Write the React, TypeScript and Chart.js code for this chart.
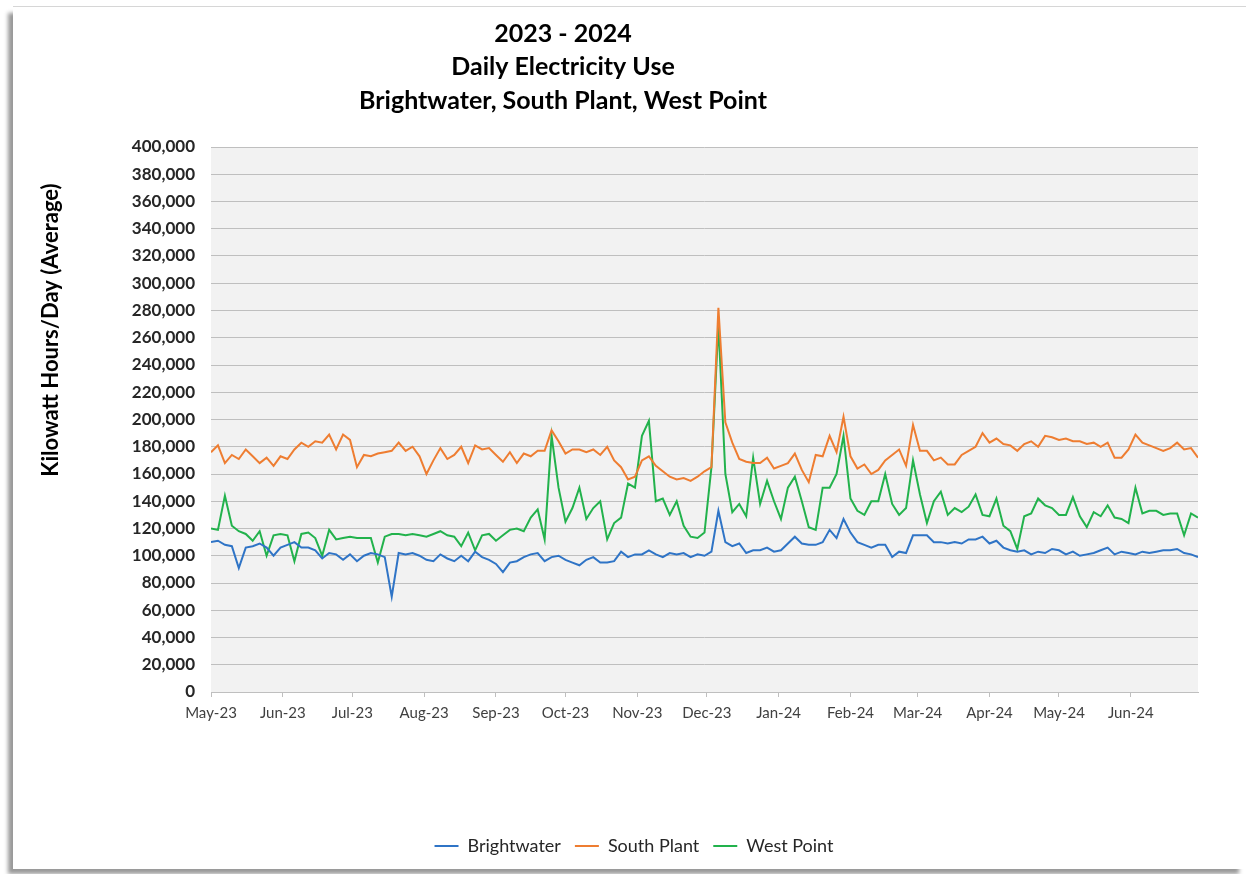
import React, { useEffect, useRef } from "react";
import { Chart, registerables } from "chart.js";

Chart.register(...registerables);

// Sample spacing of the series below (days since 1 May 2023).
const SAMPLE_STEP_DAYS = 3;

// Month tick positions (day index since 1 May 2023) and their labels.
const monthStartDays = [0, 31, 61, 92, 123, 153, 184, 214, 245, 276, 305, 336, 366, 397];
const monthLabels = [
  "May-23", "Jun-23", "Jul-23", "Aug-23", "Sep-23", "Oct-23", "Nov-23",
  "Dec-23", "Jan-24", "Feb-24", "Mar-24", "Apr-24", "May-24", "Jun-24",
];

// Daily electricity use, thousands of kWh/day, one value every 3 days.
const brightwaterK = [
  110, 111, 108, 107, 91, 106, 107, 109, 106, 100,
  106, 108, 110, 106, 106, 104, 98, 102, 101, 97,
  101, 96, 100, 102, 101, 99, 70, 102, 101, 102,
  100, 97, 96, 101, 98, 96, 100, 96, 103, 99,
  97, 94, 88, 95, 96, 99, 101, 102, 96, 99,
  100, 97, 95, 93, 97, 99, 95, 95, 96, 103,
  99, 101, 101, 104, 101, 99, 102, 101, 102, 99,
  101, 100, 103, 133, 110, 107, 109, 102, 104, 104,
  106, 103, 104, 109, 114, 109, 108, 108, 110, 119,
  113, 127, 117, 110, 108, 106, 108, 108, 99, 103,
  102, 115, 115, 115, 110, 110, 109, 110, 109, 112,
  112, 114, 109, 111, 106, 104, 103, 104, 101, 103,
  102, 105, 104, 101, 103, 100, 101, 102, 104, 106,
  101, 103, 102, 101, 103, 102, 103, 104, 104, 105,
  102, 101, 99,
];

const southPlantK = [
  176, 181, 168, 174, 171, 178, 173, 168, 172, 166,
  173, 171, 178, 183, 180, 184, 183, 189, 178, 189,
  185, 165, 174, 173, 175, 176, 177, 183, 177, 180,
  173, 160, 170, 179, 171, 174, 180, 168, 181, 178,
  179, 174, 169, 176, 168, 175, 173, 177, 177, 192,
  184, 175, 178, 178, 176, 178, 174, 180, 170, 165,
  156, 158, 170, 173, 166, 162, 158, 156, 157, 155,
  158, 162, 165, 282, 198, 183, 171, 169, 168, 168,
  172, 164, 166, 168, 175, 163, 154, 174, 173, 188,
  176, 202, 173, 164, 167, 160, 163, 170, 174, 178,
  166, 196, 177, 177, 170, 172, 167, 167, 174, 177,
  180, 190, 183, 186, 182, 181, 177, 182, 184, 180,
  188, 187, 185, 186, 184, 184, 182, 183, 180, 183,
  172, 172, 178, 189, 183, 181, 179, 177, 179, 183,
  178, 179, 172,
];

const westPointK = [
  120, 119, 144, 122, 118, 116, 111, 118, 100, 115,
  116, 115, 96, 116, 117, 113, 100, 119, 112, 113,
  114, 113, 113, 113, 95, 114, 116, 116, 115, 116,
  115, 114, 116, 118, 115, 114, 107, 117, 104, 115,
  116, 111, 115, 119, 120, 118, 128, 134, 112, 188,
  150, 125, 135, 150, 127, 135, 140, 112, 124, 128,
  153, 150, 188, 199, 140, 142, 130, 140, 122, 114,
  113, 117, 165, 270, 160, 132, 138, 129, 172, 138,
  155, 140, 127, 150, 158, 140, 121, 119, 150, 150,
  160, 188, 142, 133, 130, 140, 140, 160, 138, 130,
  135, 170, 145, 124, 140, 147, 130, 135, 132, 136,
  145, 130, 129, 142, 122, 118, 105, 129, 131, 142,
  137, 135, 130, 130, 143, 129, 121, 132, 129, 137,
  128, 127, 124, 150, 131, 133, 133, 130, 131, 131,
  115, 131, 128,
];

const seriesNames = ["Brightwater", "South Plant", "West Point"];
const seriesColors = ["#2f74c6", "#ee7d31", "#22b24c"];

const FONT = "Lato, 'Open Sans', 'DejaVu Sans', sans-serif";

const titleLines = ["2023 - 2024", "Daily Electricity Use", "Brightwater, South Plant, West Point"];
const yAxisTitle = "Kilowatt Hours/Day (Average)";

const toPoints = (vals: number[]) =>
  vals.map((v, i) => ({ x: i * SAMPLE_STEP_DAYS, y: v * 1000 }));

const plotBackground = {
  id: "plotBackground",
  beforeDraw(chart: any) {
    const { ctx, chartArea } = chart;
    ctx.save();
    ctx.fillStyle = "#f2f2f2";
    ctx.fillRect(chartArea.left, chartArea.top, chartArea.right - chartArea.left, chartArea.bottom - chartArea.top);
    ctx.restore();
  },
};

const titles = {
  id: "titles",
  afterDraw(chart: any) {
    const { ctx } = chart;
    ctx.save();
    ctx.fillStyle = "#000000";
    ctx.textAlign = "center";
    ctx.textBaseline = "middle";
    ctx.font = `bold 25px ${FONT}`;
    const ys = [27, 60, 94];
    titleLines.forEach((t, i) => ctx.fillText(t, 550, ys[i]));
    ctx.translate(38, 323);
    ctx.rotate(-Math.PI / 2);
    ctx.font = `bold 22px ${FONT}`;
    ctx.fillText(yAxisTitle, 0, 0);
    ctx.restore();
  },
};

export default function App() {
  const canvasRef = useRef<HTMLCanvasElement | null>(null);

  useEffect(() => {
    if (!canvasRef.current) return;
    const data = [brightwaterK, southPlantK, westPointK];
    const chart = new Chart(canvasRef.current, {
      type: "line",
      data: {
        datasets: data.map((vals, i) => ({
          label: seriesNames[i],
          data: toPoints(vals),
          borderColor: seriesColors[i],
          backgroundColor: seriesColors[i],
          borderWidth: 2,
          pointRadius: 0,
          tension: 0,
          fill: false,
        })),
      },
      options: {
        responsive: false,
        animation: false,
        layout: { padding: { left: 9, right: 0, top: 140, bottom: 3 } },
        scales: {
          x: {
            type: "linear",
            min: 0,
            max: 426,
            afterFit(scale: any) {
              scale.height = 131;
            },
            afterBuildTicks(scale: any) {
              scale.ticks = monthStartDays.map((v) => ({ value: v }));
            },
            ticks: {
              autoSkip: false,
              maxRotation: 0,
              padding: 7,
              color: "#404040",
              font: { family: FONT, size: 15 },
              callback: (_v: any, idx: number) => monthLabels[idx],
            },
            grid: {
              drawOnChartArea: false,
              drawTicks: true,
              tickLength: 5,
              color: "#bfbfbf",
            },
            border: { display: true, color: "#bfbfbf", width: 1 },
          },
          y: {
            min: 0,
            max: 400000,
            afterFit(scale: any) {
              scale.width = 189;
            },
            ticks: {
              stepSize: 20000,
              padding: 16,
              color: "#262626",
              font: { family: FONT, size: 17, weight: "bold" },
              callback: (v: any) => Number(v).toLocaleString("en-US"),
            },
            grid: { color: "#bfbfbf", lineWidth: 1, drawTicks: false },
            border: { display: false },
          },
          rightMargin: {
            type: "linear",
            position: "right",
            afterFit(scale: any) {
              scale.width = 48;
            },
            ticks: { display: false },
            grid: { display: false },
            border: { display: false },
          },
        },
        plugins: {
          title: { display: false },
          tooltip: { enabled: false },
          legend: {
            display: true,
            position: "bottom",
            labels: {
              usePointStyle: true,
              pointStyle: "line",
              pointStyleWidth: 24,
              padding: 14,
              color: "#262626",
              font: { family: FONT, size: 18 },
            },
          },
        },
      },
      plugins: [plotBackground, titles],
    });
    return () => chart.destroy();
  }, []);

  return (
    <div style={{ position: "fixed", left: 0, top: 0, width: 1246, height: 874, background: "#ffffff", overflow: "hidden" }}>
      <div
        style={{
          position: "absolute",
          left: 13,
          top: 6,
          width: 1233,
          height: 862,
          background: "#ffffff",
          borderTop: "1px solid #d6d6d6",
          boxShadow: "-6px 6px 4px -1px rgba(0,0,0,0.4)",
        }}
      >
        <canvas ref={canvasRef} width={1233} height={861} style={{ display: "block" }} />
      </div>
    </div>
  );
}
